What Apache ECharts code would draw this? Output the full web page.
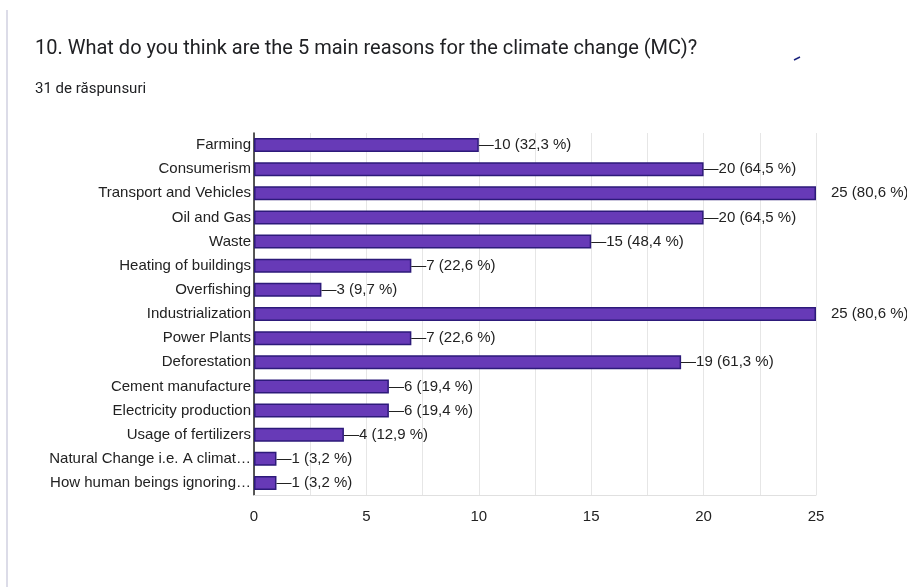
<!DOCTYPE html>
<html>
<head>
<meta charset="utf-8">
<script src="https://cdn.jsdelivr.net/npm/echarts@6/dist/echarts.min.js"></script>
<style>
  html, body { margin: 0; padding: 0; background: #fff; }
  #chart { width: 907px; height: 587px; }
</style>
</head>
<body>
<div id="chart"></div>
<script>
// categories, top to bottom as in the reference
const categories = [
  "Farming",
  "Consumerism",
  "Transport and Vehicles",
  "Oil and Gas",
  "Waste",
  "Heating of buildings",
  "Overfishing",
  "Industrialization",
  "Power Plants",
  "Deforestation",
  "Cement manufacture",
  "Electricity production",
  "Usage of fertilizers",
  "Natural Change i.e. A climat…",
  "How human beings ignoring…"
];
const counts = [10, 20, 25, 20, 15, 7, 3, 25, 7, 19, 6, 6, 4, 1, 1];
const percents = ["32,3", "64,5", "80,6", "64,5", "48,4", "22,6", "9,7", "80,6", "22,6", "61,3", "19,4", "19,4", "12,9", "3,2", "3,2"];
const tickLabels = [0, 5, 10, 15, 20, 25];

const chart = echarts.init(document.getElementById("chart"));

const barData = counts.map((v, i) => {
  const full = v >= 25;
  return {
    value: v,
    label: {
      distance: full ? 15 : 0,
      formatter: (full ? "" : "—") + v + " (" + percents[i] + " %)"
    }
  };
});

const option = {
  animation: false,
  backgroundColor: "#fff",
  title: [
    {
      text: "10. What do you think are the 5 main reasons for the climate change (MC)?",
      left: 35,
      top: 39,
      padding: 0,
      textStyle: { fontFamily: "Roboto", fontSize: 20, fontWeight: "normal", color: "#202124" }
    },
    {
      text: "31 de răspunsuri",
      left: 35,
      top: 82,
      padding: 0,
      textStyle: { fontFamily: "Roboto", fontSize: 15, fontWeight: "normal", color: "#202124" }
    }
  ],
  graphic: [
    {
      type: "line",
      shape: { x1: 7, y1: 10, x2: 7, y2: 587 },
      style: { stroke: "#dcdce8", lineWidth: 2 }
    },
    {
      type: "line",
      shape: { x1: 794, y1: 60, x2: 800, y2: 57 },
      style: { stroke: "#1a237e", lineWidth: 1.5 }
    }
  ],
  grid: { left: 254, right: 91, top: 133, bottom: 92 },
  xAxis: {
    type: "value",
    min: 0,
    max: 25,
    interval: 2.5,
    axisLine: { show: true, lineStyle: { color: "#e0e0e0", width: 1 } },
    axisTick: { show: false },
    splitLine: { show: true, lineStyle: { color: "#e6e6e6", width: 1 } },
    axisLabel: {
      margin: 14,
      fontFamily: "Liberation Sans",
      fontSize: 15,
      color: "#222",
      formatter: v => (tickLabels.indexOf(v) >= 0 ? String(v) : "")
    }
  },
  yAxis: {
    type: "category",
    inverse: true,
    data: categories,
    axisLine: { show: true, lineStyle: { color: "#222", width: 1.5 } },
    axisTick: { show: false },
    axisLabel: {
      margin: 3,
      fontFamily: "Liberation Sans",
      fontSize: 15,
      color: "#222"
    }
  },
  series: [
    {
      type: "bar",
      data: barData,
      barWidth: 14,
      itemStyle: {
        color: "#673ab7",
        borderColor: "#2d1a7a",
        borderWidth: 1.5
      },
      label: {
        show: true,
        position: "right",
        fontFamily: "Liberation Sans",
        fontSize: 15,
        color: "#222"
      }
    }
  ]
};

chart.setOption(option);
</script>
</body>
</html>
